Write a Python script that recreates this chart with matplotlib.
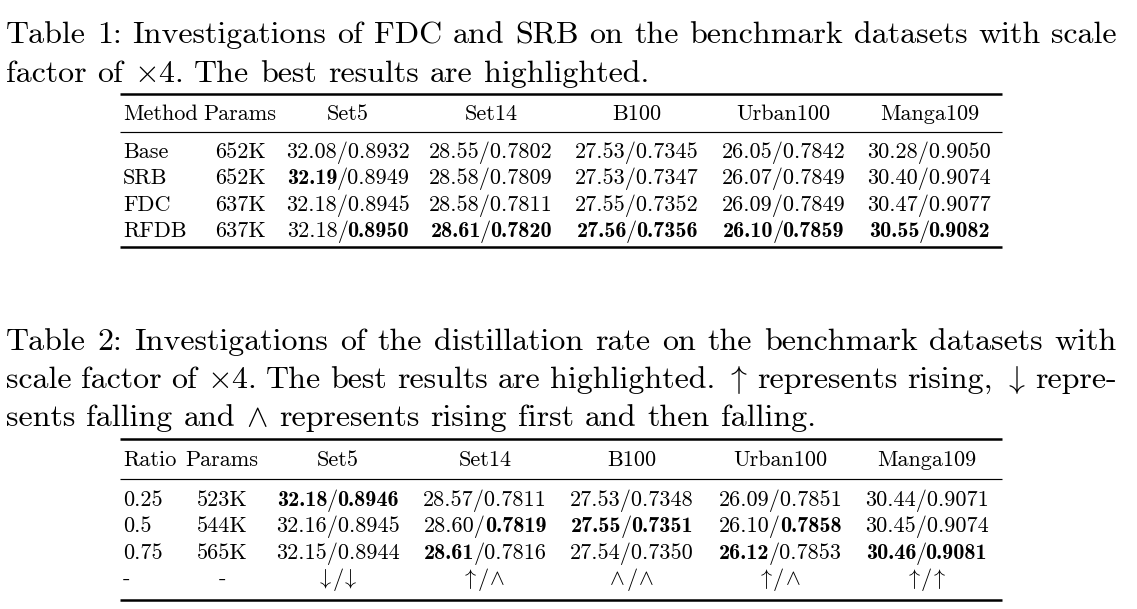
import matplotlib
matplotlib.use("Agg")
import matplotlib.pyplot as plt
from matplotlib.lines import Line2D
from matplotlib.transforms import IdentityTransform

plt.rcParams['mathtext.fontset'] = 'cm'
plt.rcParams['font.family'] = 'cmr10'

# ---------------- data ----------------
caption1 = [
    r"Table 1: Investigations of FDC and SRB on the benchmark datasets with scale",
    r"factor of $\times$4. The best results are highlighted.",
]
caption2 = [
    r"Table 2: Investigations of the distillation rate on the benchmark datasets with",
    r"scale factor of $\times$4. The best results are highlighted. $\uparrow$ represents rising, $\downarrow$ repre-",
    r"sents falling and $\wedge$ represents rising first and then falling.",
]

datasets = ["Set5", "Set14", "B100", "Urban100", "Manga109"]

t1_methods = ["Base", "SRB", "FDC", "RFDB"]
t1_params = ["652K", "652K", "637K", "637K"]
t1_psnr = [
    [32.08, 28.55, 27.53, 26.05, 30.28],
    [32.19, 28.58, 27.53, 26.07, 30.40],
    [32.18, 28.58, 27.55, 26.09, 30.47],
    [32.18, 28.61, 27.56, 26.10, 30.55],
]
t1_ssim = [
    [0.8932, 0.7802, 0.7345, 0.7842, 0.9050],
    [0.8949, 0.7809, 0.7347, 0.7849, 0.9074],
    [0.8945, 0.7811, 0.7352, 0.7849, 0.9077],
    [0.8950, 0.7820, 0.7356, 0.7859, 0.9082],
]

t2_ratios = ["0.25", "0.5", "0.75"]
t2_params = ["523K", "544K", "565K"]
t2_psnr = [
    [32.18, 28.57, 27.53, 26.09, 30.44],
    [32.16, 28.60, 27.55, 26.10, 30.45],
    [32.15, 28.61, 27.54, 26.12, 30.46],
]
t2_ssim = [
    [0.8946, 0.7811, 0.7348, 0.7851, 0.9071],
    [0.8945, 0.7819, 0.7351, 0.7858, 0.9074],
    [0.8944, 0.7816, 0.7350, 0.7853, 0.9081],
]
# (PSNR trend, SSIM trend): u = rising, d = falling, w = rising then falling
t2_trend = [("d", "d"), ("u", "w"), ("w", "w"), ("u", "w"), ("u", "u")]

# ---------------- layout ----------------
W, H, DPI = 1137, 609, 100
CAP_SIZE = 23
CELL_SIZE = 16.0
INK = 'black'
# glyph codes of the arrows / wedge in the cmsy10 font
CMSY = {"u": '"', "d": '#', "w": '^'}

fig = plt.figure(figsize=(W / DPI, H / DPI), dpi=DPI)
fig.patch.set_facecolor('white')
renderer = fig.canvas.get_renderer()
ident = IdentityTransform()


def put(x, y, s, size, ha='left', family='cmr10'):
    return fig.text(x, H - y, s, fontsize=size, color=INK, family=family,
                    ha=ha, va='baseline', transform=ident)


def caption(lines, y0, step, x0=6, x1=1117):
    for i, line in enumerate(lines):
        words = line.split(' ')
        texts = [put(0, 0, w, CAP_SIZE) for w in words]
        widths = [t.get_window_extent(renderer).width for t in texts]
        last = i == len(lines) - 1
        gap = 11.0 if last else (x1 - x0 - sum(widths)) / (len(words) - 1)
        x = x0
        for t, w in zip(texts, widths):
            t.set_position((x, H - (y0 + i * step)))
            x += w + gap


def pieces_centered(cx, y, pieces, gap=0.0):
    # pieces: list of (text, family); laid out left to right, centred on cx
    texts = [put(0, 0, s, CELL_SIZE, family=f) for s, f in pieces]
    widths = [t.get_window_extent(renderer).width for t in texts]
    x = cx - (sum(widths) + gap * (len(texts) - 1)) / 2
    for t, w in zip(texts, widths):
        t.set_position((x, H - y))
        x += w + gap


def value_cell(cx, y, p, s, bold_p, bold_s):
    segs = [(f"{p:.2f}", bold_p), ("/", False), (f"{s:.4f}", bold_s)]
    merged = []
    for txt, b in segs:
        if merged and merged[-1][1] == b:
            merged[-1] = (merged[-1][0] + txt, b)
        else:
            merged.append((txt, b))
    if len(merged) == 1 and not merged[0][1]:
        put(cx, y, merged[0][0], CELL_SIZE, ha='center')
    else:
        pieces_centered(cx, y, [(t, 'cmb10' if b else 'cmr10') for t, b in merged],
                        gap=-1.0)


def rule(y, lw):
    fig.add_artist(Line2D([120, 1002], [H - y, H - y], lw=lw, color=INK,
                          transform=ident, solid_capstyle='butt'))


def table(first_header, names, params, psnr, ssim, cols, header_y, row_y, row_step, rules):
    put(cols[0], header_y, first_header, CELL_SIZE)
    put(cols[1], header_y, "Params", CELL_SIZE, ha='center')
    for j, d in enumerate(datasets):
        put(cols[j + 2], header_y, d, CELL_SIZE, ha='center')
    best_p = [max(r[j] for r in psnr) for j in range(len(datasets))]
    best_s = [max(r[j] for r in ssim) for j in range(len(datasets))]
    for i, name in enumerate(names):
        y = row_y + i * row_step
        put(cols[0], y, name, CELL_SIZE)
        put(cols[1], y, params[i], CELL_SIZE, ha='center')
        for j in range(len(datasets)):
            p, s = psnr[i][j], ssim[i][j]
            value_cell(cols[j + 2], y, p, s, p == best_p[j], s == best_s[j])
    top, mid, bot = rules
    rule(top, 1.8)
    rule(mid, 0.85)
    rule(bot, 1.8)


# Table 1
caption(caption1, 43, 39)
t1_cols = [123, 240, 348, 491, 637, 783.5, 929.5]
table("Method", t1_methods, t1_params, t1_psnr, t1_ssim, t1_cols,
      120, 158, 26.3, (94, 132, 247))

# Table 2
caption(caption2, 350, 38)
t2_cols = [123, 222, 338, 485, 632, 780.5, 926.5]
table("Ratio", t2_ratios, t2_params, t2_psnr, t2_ssim, t2_cols,
      466, 506, 26.5, (439, 479, 600))
trend_y = 585
put(t2_cols[0], trend_y, "-", CELL_SIZE)
put(t2_cols[1], trend_y, "-", CELL_SIZE, ha='center')
for j, (a, b) in enumerate(t2_trend):
    pieces_centered(t2_cols[j + 2], trend_y,
                    [(CMSY[a], 'cmsy10'), ("/", 'cmr10'), (CMSY[b], 'cmsy10')], gap=1.5)

fig.savefig("out.png", dpi=DPI, facecolor='white')
